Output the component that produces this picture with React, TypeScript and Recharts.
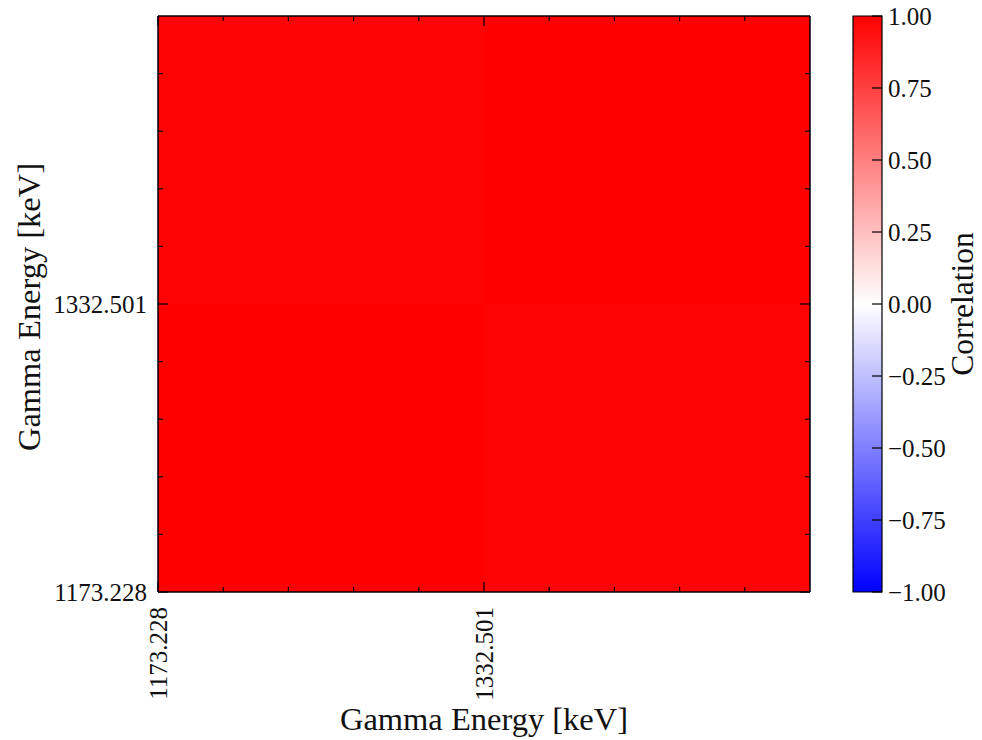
import React from 'react';
import { ComposedChart, XAxis, YAxis, ReferenceArea, Label, Scatter } from 'recharts';

// 2x2 correlation matrix of the gamma lines
const energies = ['1173.228', '1332.501'];
const correlation = [
    [1.0, 0.985],
    [0.985, 1.0],
];
const majorTicks = [0, 1];
const minorTicks = [0.2, 0.4, 0.6, 0.8, 1.2, 1.4, 1.6, 1.8];
const cbTicks = [-1, -0.75, -0.5, -0.25, 0, 0.25, 0.5, 0.75, 1];
const cbStops = ['#ff0000', '#ffffff', '#0000ff'];

const FONT = '"Liberation Serif", "Times New Roman", serif';
const TICK_FS = 25;
const LABEL_FS = 32.5;

const W = 982;
const H = 740;

const bwr = (v: number) => {
    if (v >= 0) {
        const c = Math.round(255 * (1 - v));
        return `rgb(255,${c},${c})`;
    }
    const c = Math.round(255 * (1 + v));
    return `rgb(${c},${c},255)`;
};

const allTicks = [...majorTicks, ...minorTicks].sort((a, b) => a - b);
const isMajor = (v: number) => majorTicks.includes(v);
const tickLen = (v: number) => (isMajor(v) ? 10 : 5);

const NoShape = () => <g />;

const BottomTick = (props: any) => {
    const { x, y, payload } = props;
    const v = payload.value;
    return (
        <g>
            <line x1={x} x2={x} y1={y} y2={y - tickLen(v)} stroke="#000" strokeWidth={1.2} />
            {isMajor(v) && (
                <text
                    x={x}
                    y={y + 15}
                    transform={`rotate(-90, ${x}, ${y + 15})`}
                    textAnchor="end"
                    dominantBaseline="central"
                    fontFamily={FONT}
                    fontSize={TICK_FS}
                    fill="#111"
                >
                    {energies[v]}
                </text>
            )}
        </g>
    );
};

const LeftTick = (props: any) => {
    const { x, y, payload } = props;
    const v = payload.value;
    return (
        <g>
            <line x1={x} x2={x + tickLen(v)} y1={y} y2={y} stroke="#000" strokeWidth={1.2} />
            {isMajor(v) && (
                <text
                    x={x - 11}
                    y={y}
                    textAnchor="end"
                    dominantBaseline="central"
                    fontFamily={FONT}
                    fontSize={TICK_FS}
                    fill="#111"
                >
                    {energies[v]}
                </text>
            )}
        </g>
    );
};

const TopTick = (props: any) => {
    const { x, y, payload } = props;
    return <line x1={x} x2={x} y1={y} y2={y + tickLen(payload.value)} stroke="#000" strokeWidth={1.2} />;
};

const RightTick = (props: any) => {
    const { x, y, payload } = props;
    return <line x1={x} x2={x - tickLen(payload.value)} y1={y} y2={y} stroke="#000" strokeWidth={1.2} />;
};

const fmtCb = (v: number) => (v < 0 ? '\u2212' + Math.abs(v).toFixed(2) : v.toFixed(2));

const CbTick = (props: any) => {
    const { x, y, payload } = props;
    return (
        <g>
            <line x1={x} x2={x - 10} y1={y} y2={y} stroke="#000" strokeWidth={1.2} />
            <text
                x={x + 6}
                y={y}
                textAnchor="start"
                dominantBaseline="central"
                fontFamily={FONT}
                fontSize={TICK_FS}
                fill="#111"
            >
                {fmtCb(payload.value)}
            </text>
        </g>
    );
};

const axisLine = { stroke: '#000', strokeWidth: 1.5 };

// rotated axis title; dx is where the text baseline sits, measured from the axis box
const rotatedLabel = (text: string, dx: number, dy: number, fs: number) => ({ viewBox }: any) => {
    const cx = viewBox.x + dx;
    const cy = viewBox.y + viewBox.height / 2 + dy;
    return (
        <text
            x={cx}
            y={cy}
            transform={`rotate(-90, ${cx}, ${cy})`}
            textAnchor="middle"
            fontFamily={FONT}
            fontSize={fs}
            fill="#111"
        >
            {text}
        </text>
    );
};

const layer: React.CSSProperties = { position: 'absolute', left: 0, top: 0 };

const App = () => {
    const cells: { i: number; j: number; x: number; y: number; v: number }[] = [];
    correlation.forEach((row, j) => row.forEach((v, i) => cells.push({ i, j, x: i + 0.5, y: j + 0.5, v })));
    const cbData = [{ x: 0.5, y: 0 }];

    return (
        <div style={{ position: 'absolute', left: 0, top: 0, width: W, height: H, background: '#fff' }}>
            {/* heatmap cells */}
            <div style={layer}>
                <ComposedChart width={W} height={H} data={cells} margin={{ top: 16, right: 172, bottom: 148, left: 158 }}>
                    <XAxis type="number" dataKey="x" domain={[0, 2]} hide />
                    <YAxis type="number" dataKey="y" domain={[0, 2]} hide />
                    {cells.map((c) => (
                        <ReferenceArea
                            key={`${c.i}-${c.j}`}
                            x1={c.i}
                            x2={c.i + 1}
                            y1={c.j}
                            y2={c.j + 1}
                            fill={bwr(c.v)}
                            fillOpacity={1}
                            stroke="none"
                            ifOverflow="visible"
                        />
                    ))}
                    <Scatter data={cells} dataKey="y" shape={<NoShape />} isAnimationActive={false} />
                </ComposedChart>
            </div>

            {/* colour bar fill */}
            <div style={layer}>
                <ComposedChart width={W} height={H} data={cbData} margin={{ top: 16, right: 100, bottom: 148, left: 853 }}>
                    <defs>
                        <linearGradient id="bwr" x1="0" y1="0" x2="0" y2="1">
                            {cbStops.map((c, k) => (
                                <stop key={k} offset={`${(k / (cbStops.length - 1)) * 100}%`} stopColor={c} />
                            ))}
                        </linearGradient>
                    </defs>
                    <XAxis type="number" dataKey="x" domain={[0, 1]} hide />
                    <YAxis type="number" dataKey="y" domain={[-1, 1]} hide />
                    <ReferenceArea
                        x1={0}
                        x2={1}
                        y1={-1}
                        y2={1}
                        fill="url(#bwr)"
                        fillOpacity={1}
                        stroke="#000"
                        strokeWidth={1.2}
                        ifOverflow="visible"
                    />
                    <Scatter data={cbData} dataKey="y" shape={<NoShape />} isAnimationActive={false} />
                </ComposedChart>
            </div>

            {/* frame, ticks and labels of the heatmap */}
            <div style={layer}>
                <ComposedChart width={W} height={H} data={cells} margin={{ top: 15, right: 171, bottom: 0, left: 0 }}>
                    <XAxis
                        type="number"
                        dataKey="x"
                        domain={[0, 2]}
                        ticks={allTicks}
                        interval={0}
                        height={148}
                        tickSize={0}
                        tickMargin={0}
                        tickLine={false}
                        axisLine={axisLine}
                        tick={<BottomTick />}
                    >
                        <Label
                            content={({ viewBox }: any) => (
                                <text
                                    x={viewBox.x + viewBox.width / 2}
                                    y={viewBox.y + 127}
                                    textAnchor="middle"
                                    dominantBaseline="central"
                                    fontFamily={FONT}
                                    fontSize={LABEL_FS}
                                    fill="#111"
                                >
                                    Gamma Energy [keV]
                                </text>
                            )}
                        />
                    </XAxis>
                    <XAxis
                        xAxisId="top"
                        orientation="top"
                        type="number"
                        dataKey="x"
                        domain={[0, 2]}
                        ticks={allTicks}
                        interval={0}
                        height={1}
                        tickSize={0}
                        tickMargin={0}
                        tickLine={false}
                        axisLine={axisLine}
                        tick={<TopTick />}
                    />
                    <YAxis
                        type="number"
                        dataKey="y"
                        domain={[0, 2]}
                        ticks={allTicks}
                        interval={0}
                        width={158}
                        tickSize={0}
                        tickMargin={0}
                        tickLine={false}
                        axisLine={axisLine}
                        tick={<LeftTick />}
                    >
                        <Label content={rotatedLabel('Gamma Energy [keV]', 40, 3, LABEL_FS)} />
                    </YAxis>
                    <YAxis
                        yAxisId="right"
                        orientation="right"
                        type="number"
                        dataKey="y"
                        domain={[0, 2]}
                        ticks={allTicks}
                        interval={0}
                        width={1}
                        tickSize={0}
                        tickMargin={0}
                        tickLine={false}
                        axisLine={axisLine}
                        tick={<RightTick />}
                    />
                    <Scatter data={cells} dataKey="y" shape={<NoShape />} isAnimationActive={false} />
                    <Scatter
                        data={cells}
                        dataKey="y"
                        xAxisId="top"
                        yAxisId="right"
                        shape={<NoShape />}
                        isAnimationActive={false}
                    />
                </ComposedChart>
            </div>

            {/* colour bar ticks and label */}
            <div style={layer}>
                <ComposedChart width={W} height={H} data={cbData} margin={{ top: 16, right: 99, bottom: 148, left: 853 }}>
                    <XAxis type="number" dataKey="x" domain={[0, 1]} hide />
                    <YAxis
                        orientation="right"
                        type="number"
                        dataKey="y"
                        domain={[-1, 1]}
                        ticks={cbTicks}
                        interval={0}
                        width={1}
                        tickSize={0}
                        tickMargin={0}
                        tickLine={false}
                        axisLine={false}
                        tick={<CbTick />}
                    >
                        <Label content={rotatedLabel('Correlation', 91, 0, 31.5)} />
                    </YAxis>
                    <Scatter data={cbData} dataKey="y" shape={<NoShape />} isAnimationActive={false} />
                </ComposedChart>
            </div>
        </div>
    );
};

export default App;
